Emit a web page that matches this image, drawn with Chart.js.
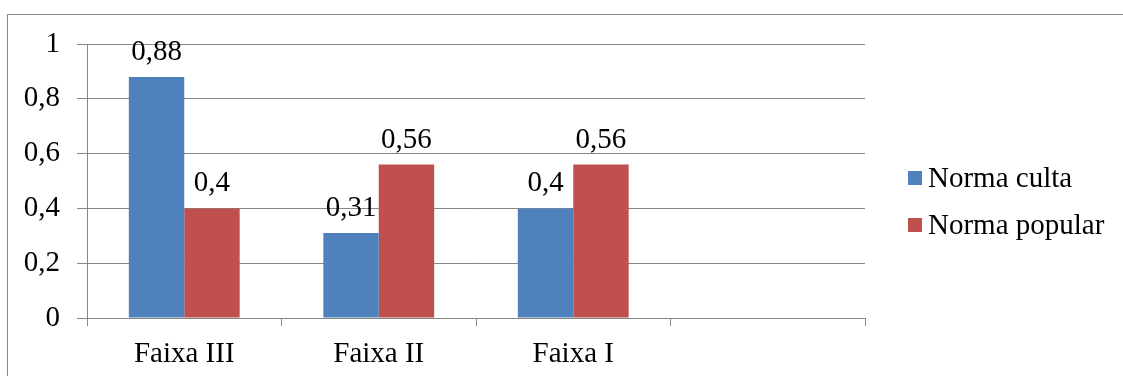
<!DOCTYPE html>
<html><head><meta charset="utf-8">
<script src="https://cdn.jsdelivr.net/npm/chart.js@4.4.0/dist/chart.umd.min.js"></script>
<style>html,body{margin:0;padding:0;background:#fff;overflow:hidden}#wrap{width:1123px;height:376px;position:relative}</style>
</head><body><div id="wrap"><canvas id="c"></canvas></div>
<script>
const categories = ['Faixa III', 'Faixa II', 'Faixa I', ''];
const normaCulta = [0.88, 0.31, 0.4, null];
const normaPopular = [0.4, 0.56, 0.56, null];
const seriesNames = ['Norma culta', 'Norma popular'];
const seriesColors = ['#4F81BD', '#C0504D'];

const FONT = "'Liberation Serif','Times New Roman',serif";
const FSIZE = 29;
const GRID = '#868686';
const fmt = v => String(Math.round(v * 100) / 100).replace('.', ',');

const extras = {
  id: 'extras',
  afterDraw(chart) {
    const ctx = chart.ctx;
    ctx.save();
    ctx.strokeStyle = GRID; ctx.lineWidth = 1;
    ctx.beginPath();
    ctx.moveTo(7.5, 376); ctx.lineTo(7.5, 14.5); ctx.lineTo(1123, 14.5);
    ctx.stroke();
    ctx.font = FSIZE + 'px ' + FONT;
    ctx.fillStyle = '#000';
    ctx.textAlign = 'center'; ctx.textBaseline = 'alphabetic';
    chart.data.datasets.forEach((ds, i) => {
      const meta = chart.getDatasetMeta(i);
      meta.data.forEach((bar, j) => {
        const v = ds.data[j];
        if (v == null) return;
        ctx.fillText(fmt(v), bar.x, bar.y - 17);
      });
    });
    ctx.textAlign = 'left'; ctx.textBaseline = 'middle';
    chart.data.datasets.forEach((ds, i) => {
      const cy = 178 + i * 47;
      ctx.fillStyle = ds.backgroundColor;
      ctx.fillRect(908, cy - 7, 14, 14);
      ctx.fillStyle = '#000';
      ctx.fillText(ds.label, 928, cy + 1);
    });
    ctx.restore();
  }
};

new Chart(document.getElementById('c'), {
  type: 'bar',
  data: {
    labels: categories,
    datasets: [
      { label: seriesNames[0], data: normaCulta, backgroundColor: seriesColors[0] },
      { label: seriesNames[1], data: normaPopular, backgroundColor: seriesColors[1] }
    ]
  },
  options: {
    responsive: true, maintainAspectRatio: false, animation: false,
    devicePixelRatio: 1,
    layout: { padding: { top: 44, right: 258, left: 0, bottom: 0 } },
    datasets: { bar: { categoryPercentage: 0.57, barPercentage: 1 } },
    plugins: { legend: { display: false }, tooltip: { enabled: false } },
    scales: {
      x: {
        offset: true,
        grid: { drawOnChartArea: false, offset: true, tickLength: 8, color: GRID },
        border: { display: true, color: GRID },
        ticks: { font: { family: FONT, size: FSIZE }, color: '#000', padding: 11, maxRotation: 0 },
        afterFit: s => { s.height = 58; }
      },
      y: {
        min: 0, max: 1,
        grid: { color: GRID, tickLength: 10 },
        border: { display: true, color: GRID },
        ticks: { stepSize: 0.2, font: { family: FONT, size: FSIZE }, color: '#000', padding: 17, callback: v => fmt(v) },
        afterFit: s => { s.width = 87; }
      }
    }
  },
  plugins: [extras]
});
</script></body></html>
